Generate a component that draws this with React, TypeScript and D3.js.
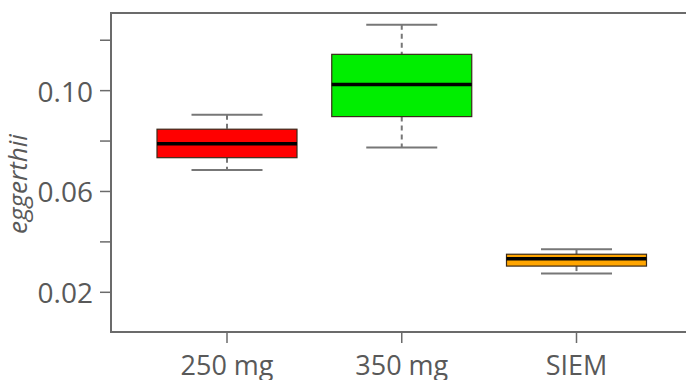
import React from "react";
import * as d3 from "d3";

const categories = ["250 mg", "350 mg", "SIEM"];
const whiskerLow = [0.0685, 0.0774, 0.0275];
const q1 = [0.0734, 0.0897, 0.0304];
const median = [0.0789, 0.1024, 0.0333];
const q3 = [0.0847, 0.1144, 0.0351];
const whiskerHigh = [0.0904, 0.1261, 0.0371];
const fills = ["#ff0000", "#00ee00", "#ffa500"];
const majorTicks = [0.02, 0.06, 0.1];
const minorTicks = [0.04, 0.08, 0.12];
const yLabel = "eggerthii";

const W = 686;
const H = 380;
const left = 111;
const top = 13;
const bottom = 332;
const right = 700;

export default function App() {
  const y = d3.scaleLinear().domain([0.00425, 0.1308]).range([bottom, top]);
  const x = d3.scalePoint<string>().domain(categories).range([227, 576.5]);
  const boxW = 140;
  const capW = 71;
  const axisColor = "#6b6b6b";
  const textColor = "#595959";
  const fmt = d3.format(".2f");

  return (
    <svg
      width={W}
      height={H}
      style={{ position: "absolute", left: 0, top: 0, background: "#fff" }}
      fontFamily="'Open Sans', sans-serif"
    >
      {/* frame */}
      <path
        d={`M${right},${top}H${left}V${bottom}H${right}`}
        fill="none"
        stroke={axisColor}
        strokeWidth={2}
      />
      {/* y ticks */}
      {[...majorTicks, ...minorTicks].map((t) => (
        <line key={"yt" + t} x1={100} x2={left} y1={y(t)} y2={y(t)} stroke={axisColor} strokeWidth={1.5} />
      ))}
      {majorTicks.map((t) => (
        <text
          key={"yl" + t}
          x={93}
          y={y(t)}
          textAnchor="end"
          dominantBaseline="central"
          fontSize={28}
          fill={textColor}
        >
          {fmt(t)}
        </text>
      ))}
      {/* x ticks */}
      {categories.map((c) => (
        <g key={"xt" + c}>
          <line x1={x(c)} x2={x(c)} y1={bottom} y2={343} stroke={axisColor} strokeWidth={1.5} />
          <text x={x(c)} y={375} textAnchor="middle" fontSize={27} fill={textColor}>
            {c}
          </text>
        </g>
      ))}
      {/* y label */}
      <text
        transform={`translate(27,184) rotate(-90)`}
        textAnchor="middle"
        fontSize={26}
        fontStyle="italic"
        fill={textColor}
      >
        {yLabel}
      </text>
      {/* boxes */}
      {categories.map((c, i) => {
        const cx = x(c) as number;
        return (
          <g key={"b" + c}>
            <line x1={cx} x2={cx} y1={y(whiskerHigh[i])} y2={y(q3[i])} stroke="#777" strokeWidth={2} strokeDasharray="5,4" />
            <line x1={cx} x2={cx} y1={y(q1[i])} y2={y(whiskerLow[i])} stroke="#777" strokeWidth={2} strokeDasharray="5,4" />
            <line x1={cx - capW / 2} x2={cx + capW / 2} y1={y(whiskerHigh[i])} y2={y(whiskerHigh[i])} stroke="#777" strokeWidth={2} />
            <line x1={cx - capW / 2} x2={cx + capW / 2} y1={y(whiskerLow[i])} y2={y(whiskerLow[i])} stroke="#777" strokeWidth={2} />
            <rect
              x={cx - boxW / 2}
              y={y(q3[i])}
              width={boxW}
              height={y(q1[i]) - y(q3[i])}
              fill={fills[i]}
              stroke="#3a2a1a"
              strokeWidth={1.2}
            />
            <line x1={cx - boxW / 2} x2={cx + boxW / 2} y1={y(median[i])} y2={y(median[i])} stroke="#000" strokeWidth={3.5} />
          </g>
        );
      })}
    </svg>
  );
}
